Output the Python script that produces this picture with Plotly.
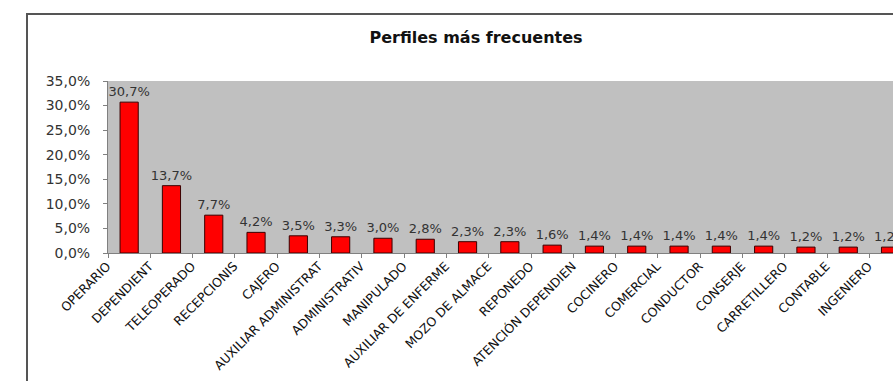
import plotly.graph_objects as go

# Most frequent job profiles (share of total)
perfiles = [
    "OPERARIO", "DEPENDIENT", "TELEOPERADO", "RECEPCIONIS", "CAJERO",
    "AUXILIAR ADMINISTRAT", "ADMINISTRATIV", "MANIPULADO", "AUXILIAR DE ENFERME",
    "MOZO DE ALMACE", "REPONEDO", "ATENCIÓN DEPENDIEN", "COCINERO", "COMERCIAL",
    "CONDUCTOR", "CONSERJE", "CARRETILLERO", "CONTABLE", "INGENIERO",
]
porcentajes = [
    30.7, 13.7, 7.7, 4.2, 3.5, 3.3, 3.0, 2.8, 2.3, 2.3,
    1.6, 1.4, 1.4, 1.4, 1.4, 1.4, 1.2, 1.2, 1.2,
]
y_ticks = [0, 5, 10, 15, 20, 25, 30, 35]

W, H = 893, 381
L, T, B = 108, 81, 128
plot_w = W - L
plot_h = H - T - B
cat_px = 42.3  # width of one category slot in pixels

valores = [p / 100 for p in porcentajes]

fig = go.Figure(
    go.Bar(
        x=perfiles,
        y=valores,
        width=0.43,
        marker=dict(color="#FF0000", line=dict(color="#3a0000", width=1)),
        texttemplate="%{y:.1%}",
        textposition="outside",
        constraintext="none",
        textfont=dict(family="DejaVu Sans", size=13, color="#333333"),
        cliponaxis=True,
        hoverinfo="skip",
    )
)

# Outer chart frame (extends past the right and bottom edges of the page)
px_to_x = lambda px: (px - L) / plot_w
px_to_y = lambda py: (H - B - py) / plot_h
fig.add_shape(
    type="rect", xref="paper", yref="paper",
    x0=px_to_x(27), x1=px_to_x(W + 60), y0=px_to_y(H + 60), y1=px_to_y(14),
    line=dict(color="#555555", width=2), fillcolor="rgba(0,0,0,0)", layer="below",
)

fig.update_layout(
    width=W, height=H,
    margin=dict(l=L, r=0, t=T, b=B, pad=0),
    paper_bgcolor="white",
    plot_bgcolor="#C0C0C0",
    separators=",.",
    showlegend=False,
    title=dict(
        text="<b>Perfiles más frecuentes</b>",
        x=476 / W, xref="container", xanchor="center",
        y=1 - 37 / H, yref="container", yanchor="middle",
        font=dict(family="DejaVu Sans", size=16, color="#111111"),
    ),
    xaxis=dict(
        type="category",
        range=[-0.5, plot_w / cat_px - 0.5],
        tickangle=-45,
        tickson="boundaries",
        ticks="outside", ticklen=4, tickcolor="#808080",
        showline=True, linecolor="#808080", linewidth=1,
        showgrid=False, zeroline=False,
        tickfont=dict(family="DejaVu Sans", size=12.5, color="#111111"),
        ticklabelshift=-22,
        fixedrange=True,
    ),
    yaxis=dict(
        range=[0, 0.35],
        tickmode="array",
        tickvals=[v / 100 for v in y_ticks],
        tickformat=".1%",
        ticks="outside", ticklen=4, tickcolor="#808080",
        showline=True, linecolor="#808080", linewidth=1,
        showgrid=False, zeroline=False,
        tickfont=dict(family="DejaVu Sans", size=14, color="#333333"),
        ticklabelstandoff=10,
        fixedrange=True,
    ),
)

fig.write_html("out.html")
